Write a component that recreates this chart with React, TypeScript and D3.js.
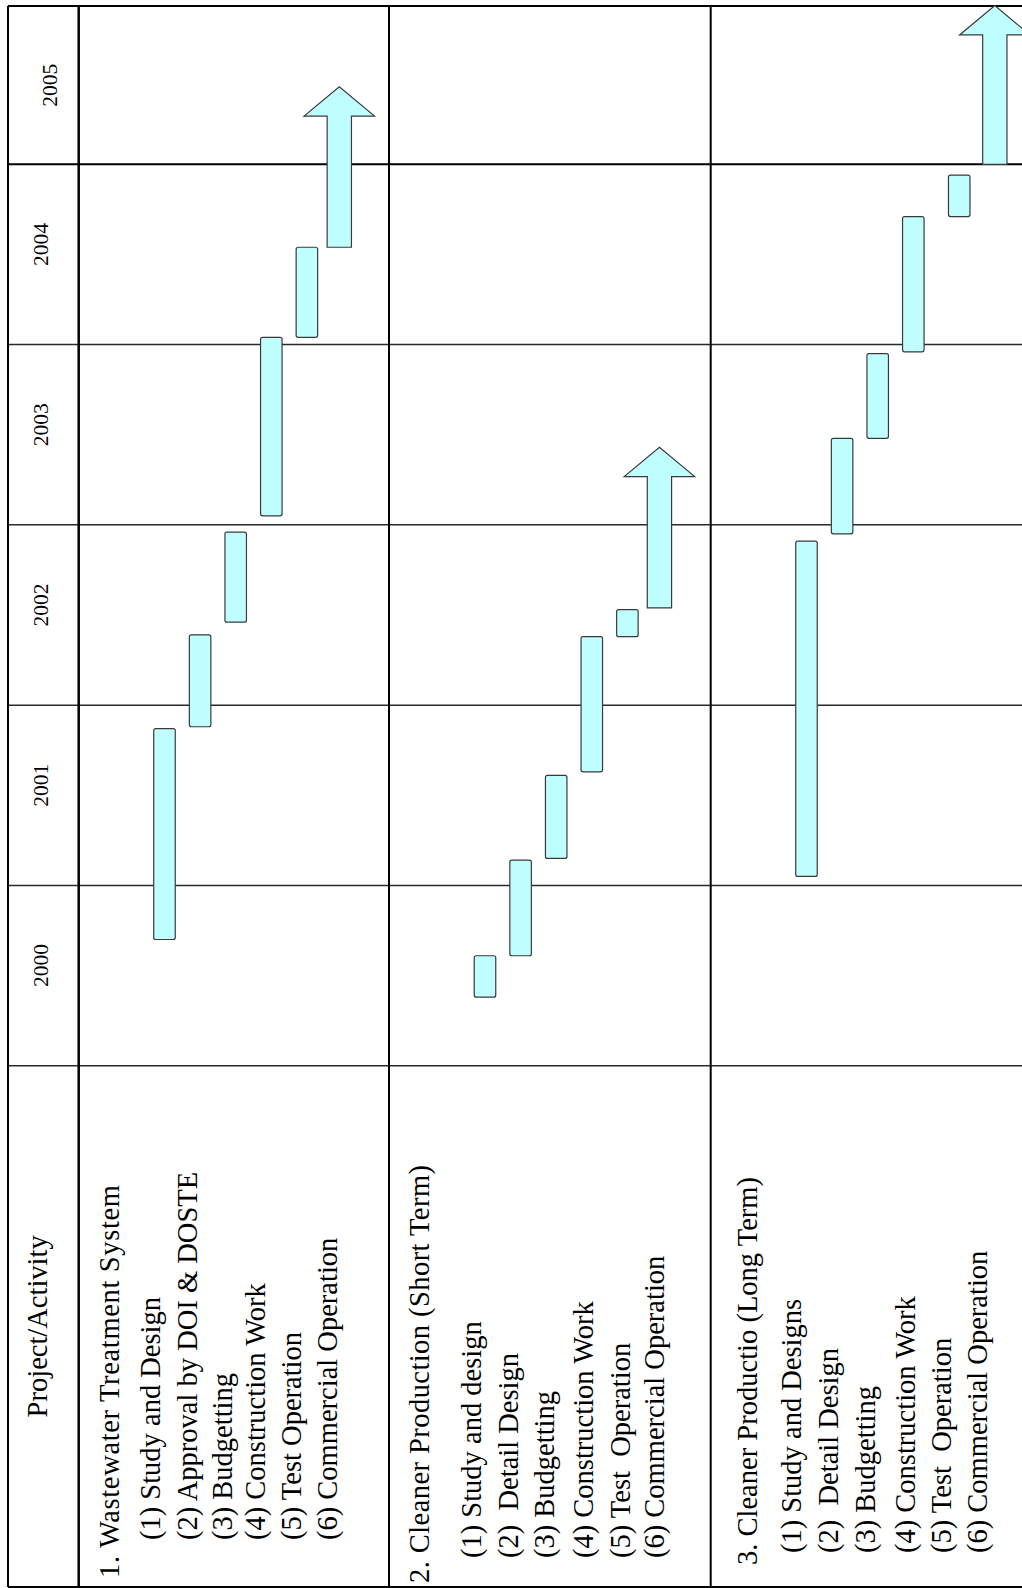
import React from "react";
import * as d3 from "d3";

// ---------- data ----------
const YEARS = [2000, 2001, 2002, 2003, 2004, 2005];
const HEADER = "Project/Activity";
const PROJECTS = [
  "1. Wastewater Treatment System",
  "2. Cleaner Production (Short Term)",
  "3. Cleaner Productio (Long Term)",
];
const ACTIVITIES_1 = [
  "(1) Study and Design",
  "(2) Approval by DOI & DOSTE",
  "(3) Budgetting",
  "(4) Construction Work",
  "(5) Test Operation",
  "(6) Commercial Operation",
];
const ACTIVITIES_2 = [
  "(1) Study and design",
  "(2)  Detail Design",
  "(3) Budgetting",
  "(4) Construction Work",
  "(5) Test  Operation",
  "(6) Commercial Operation",
];
const ACTIVITIES_3 = [
  "(1) Study and Designs",
  "(2)  Detail Design",
  "(3) Budgetting",
  "(4) Construction Work",
  "(5) Test  Operation",
  "(6) Commercial Operation",
];
// start / end of each activity in fractional years
const START_1 = [2000.7, 2001.88, 2002.46, 2003.05, 2004.04, 2004.54];
const END_1 = [2001.87, 2002.39, 2002.96, 2004.04, 2004.54, 2005.43];
const START_2 = [2000.38, 2000.61, 2001.15, 2001.63, 2002.38, 2002.54];
const END_2 = [2000.61, 2001.14, 2001.61, 2002.38, 2002.53, 2003.43];
const START_3 = [2001.05, 2002.95, 2003.48, 2003.96, 2004.71, 2005.0];
const END_3 = [2002.91, 2003.48, 2003.95, 2004.71, 2004.94, 2005.88];
// 1 = open-ended (drawn as arrow)
const ONGOING = [0, 0, 0, 0, 0, 1];

// ---------- layout ----------
const W = 1022;
const H = 1588;
const TOP = 6;
const BOTTOM = 1587;
const LEFT = 8;
const HEADER_RIGHT = 78.7;
const SECTION_LEFT = [78.7, 389, 710.7];
const LANE_START = [85.8, 96, 95.8];
const LANE_PITCH = 35.6;
const LANE_POS = [
  [0, 1, 2, 3, 4, 4.91],
  [0, 1, 2, 3, 4, 4.9],
  [0, 1, 2, 3, 4.29, 5.29],
];
const TITLE_BASE = [39.8, 40, 46];
const TITLE_LEN = [393, 418, 388];
const ITEM_BASE = [
  [81, 118, 153, 186, 222, 258],
  [92, 129, 165, 204, 241, 275],
  [90, 127, 164, 204, 240, 276],
];
const TITLE_START = [1578, 1583, 1565];
const ITEM_START = [1540, 1558, 1553];

const FONT = "'Liberation Serif', 'Times New Roman', serif";
const FILL = "#c0ffff";
const STROKE = "#3a3a3a";

export default function App() {
  const y = d3.scaleLinear().domain([2000, 2005]).range([1065.7, 164.3]);
  const acts = [ACTIVITIES_1, ACTIVITIES_2, ACTIVITIES_3];
  const starts = [START_1, START_2, START_3];
  const ends = [END_1, END_2, END_3];

  const barW = 21.5;
  const shaftW = 24.3;
  const headW = 70.5;
  const headL = 29.3;

  const yearLines = YEARS.map((yr) => y(yr));

  return (
    <svg
      width={W}
      height={H}
      style={{ position: "absolute", left: 0, top: 0, background: "#fff" }}
    >
      <rect x={0} y={0} width={W} height={H} fill="#fff" />
      {/* horizontal year lines */}
      {yearLines.map((yy, i) => (
        <line
          key={"h" + i}
          x1={LEFT}
          x2={W}
          y1={yy}
          y2={yy}
          stroke={YEARS[i] === 2005 ? "#000" : "#2a2a2a"}
          strokeWidth={YEARS[i] === 2005 ? 2 : 1.5}
        />
      ))}
      {/* vertical dividers */}
      {[HEADER_RIGHT, ...SECTION_LEFT.slice(1)].map((xx, i) => (
        <line
          key={"v" + i}
          x1={xx}
          x2={xx}
          y1={TOP}
          y2={BOTTOM}
          stroke="#000"
          strokeWidth={i === 0 ? 2.5 : 2}
        />
      ))}
      {/* outer border */}
      <line x1={LEFT} x2={LEFT} y1={TOP} y2={BOTTOM} stroke="#000" strokeWidth={2} />
      <line x1={LEFT} x2={W} y1={TOP} y2={TOP} stroke="#000" strokeWidth={2.2} />
      <line x1={LEFT} x2={W} y1={BOTTOM} y2={BOTTOM} stroke="#000" strokeWidth={2} />

      {/* year labels */}
      {YEARS.map((yr) => {
        const top = Math.max(y(yr + 1), TOP);
        const bot = y(yr);
        const full = y(yr + 1) >= TOP;
        const cy = (top + bot) / 2 - (full ? 10 : 0);
        const bx = full ? 48 : 57;
        return (
          <text
            key={"yl" + yr}
            transform={`translate(${bx},${cy}) rotate(-90)`}
            textAnchor="middle"
            fontFamily={FONT}
            fontSize={21.5}
            fill="#000"
          >
            {yr}
          </text>
        );
      })}
      {/* header label */}
      <text
        transform={`translate(47,${(y(2000) + BOTTOM) / 2}) rotate(-90)`}
        textAnchor="middle"
        fontFamily={FONT}
        fontSize={28.5}
        fill="#000"
      >
        {HEADER}
      </text>

      {/* section texts */}
      {PROJECTS.map((p, s) => (
        <g key={"sec" + s} fontFamily={FONT} fontSize={28.5} fill="#000">
          <text
            transform={`translate(${SECTION_LEFT[s] + TITLE_BASE[s]},${TITLE_START[s]}) rotate(-90)`}
            textLength={TITLE_LEN[s]}
            lengthAdjust="spacing"
            style={{ whiteSpace: "pre" }}
          >
            {p}
          </text>
          {acts[s].map((a, i) => (
            <text
              key={"a" + i}
              transform={`translate(${SECTION_LEFT[s] + ITEM_BASE[s][i]},${ITEM_START[s]}) rotate(-90)`}
              style={{ whiteSpace: "pre" }}
            >
              {a}
            </text>
          ))}
        </g>
      ))}

      {/* bars and arrows */}
      {PROJECTS.map((p, s) => {
        const lane = d3
          .scaleLinear()
          .domain([0, 1])
          .range([SECTION_LEFT[s] + LANE_START[s], SECTION_LEFT[s] + LANE_START[s] + LANE_PITCH]);
        return (
          <g key={"bars" + s}>
            {starts[s].map((st, i) => {
              const cx = lane(LANE_POS[s][i]);
              const y0 = y(st);
              const y1 = y(ends[s][i]);
              if (ONGOING[i]) {
                const yh = y1 + headL;
                const path = d3.path();
                path.moveTo(cx - shaftW / 2, y0);
                path.lineTo(cx - shaftW / 2, yh);
                path.lineTo(cx - headW / 2, yh);
                path.lineTo(cx, y1);
                path.lineTo(cx + headW / 2, yh);
                path.lineTo(cx + shaftW / 2, yh);
                path.lineTo(cx + shaftW / 2, y0);
                path.closePath();
                return (
                  <path
                    key={"b" + i}
                    d={path.toString()}
                    fill={FILL}
                    stroke={STROKE}
                    strokeWidth={1.2}
                  />
                );
              }
              return (
                <rect
                  key={"b" + i}
                  x={cx - barW / 2}
                  y={y1}
                  width={barW}
                  height={y0 - y1}
                  rx={2}
                  ry={2}
                  fill={FILL}
                  stroke={STROKE}
                  strokeWidth={1.2}
                />
              );
            })}
          </g>
        );
      })}
    </svg>
  );
}
